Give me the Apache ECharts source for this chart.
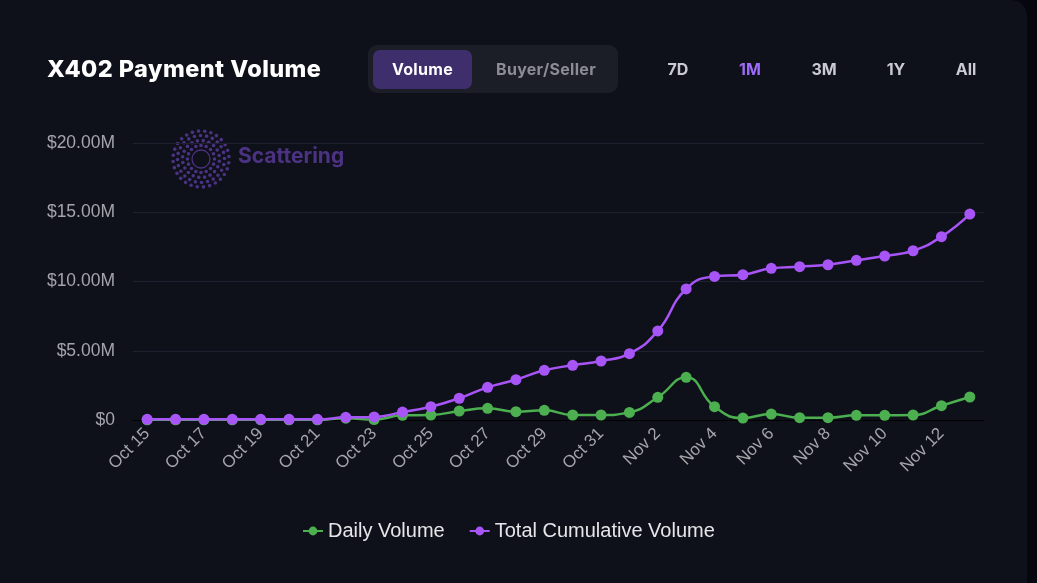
<!DOCTYPE html>
<html>
<head>
<meta charset="utf-8">
<script src="https://cdn.jsdelivr.net/npm/echarts@6/dist/echarts.min.js"></script>
<style>
  html, body { margin:0; padding:0; background:#05060e; width:1037px; height:583px; overflow:hidden; }
  #card { position:absolute; left:0; top:0; width:1027px; height:583px; background:#0f111a; border-top-right-radius:16px; }
  #chart { position:absolute; left:0; top:0; width:1037px; height:583px; }
  .hdr { position:absolute; font-family:Inter, "Noto Sans", sans-serif; font-weight:700; }
  #title { left:47px; top:54px; font-size:23.5px; font-weight:800; color:#ffffff; letter-spacing:0.45px; line-height:30px; }
  #toggle { left:368px; top:45px; width:250px; height:48px; background:#1b1d27; border-radius:9px; }
  #vol { position:absolute; left:5px; top:5px; width:99px; height:39px; background:#3f2e6c; border-radius:7px; color:#fff; font-size:16px; letter-spacing:0.3px; line-height:39px; text-align:center; }
  #bs { position:absolute; left:112px; top:5px; width:132px; height:39px; color:#8b8c97; font-size:16px; letter-spacing:0.3px; line-height:39px; text-align:center; }
  .rng { top:58px; font-size:16px; color:#c9cad2; width:50px; text-align:center; line-height:22px; }
</style>
</head>
<body>
<div id="card"></div>
<div id="chart"></div>
<div class="hdr" id="title">X402 Payment Volume</div>
<div class="hdr" id="toggle"><div id="vol">Volume</div><div id="bs">Buyer/Seller</div></div>
<div class="hdr rng" style="left:653px;">7D</div>
<div class="hdr rng" style="left:725px;color:#9d6cf7;">1M</div>
<div class="hdr rng" style="left:799px;">3M</div>
<div class="hdr rng" style="left:871px;">1Y</div>
<div class="hdr rng" style="left:941px;">All</div>
<script>
const categories = ['Oct 15','Oct 16','Oct 17','Oct 18','Oct 19','Oct 20','Oct 21','Oct 22','Oct 23','Oct 24','Oct 25','Oct 26','Oct 27','Oct 28','Oct 29','Oct 30','Oct 31','Nov 1','Nov 2','Nov 3','Nov 4','Nov 5','Nov 6','Nov 7','Nov 8','Nov 9','Nov 10','Nov 11','Nov 12','Nov 13'];
// values in millions of USD
const dailyVolume = [0.01,0.01,0.01,0.01,0.01,0.01,0.01,0.13,0.03,0.34,0.36,0.65,0.84,0.60,0.70,0.36,0.36,0.55,1.64,3.08,0.96,0.14,0.43,0.17,0.17,0.34,0.34,0.36,1.03,1.66];
const cumulativeVolume = [0.05,0.05,0.05,0.05,0.05,0.05,0.05,0.19,0.22,0.57,0.96,1.57,2.36,2.91,3.59,3.95,4.26,4.79,6.43,9.46,10.37,10.49,10.95,11.07,11.21,11.53,11.84,12.22,13.24,14.87];
const yTicks = [0,5,10,15,20];

const chart = echarts.init(document.getElementById('chart'), null, {renderer:'canvas'});

// watermark logo (decorative)
const logoColor = '#4b3282';
const logo = [];
const cx = 201, cy = 159;
logo.push({type:'circle', shape:{cx:cx, cy:cy, r:9}, style:{fill:null, stroke:logoColor, lineWidth:1.3}, silent:true});
const rings = [[13.5,16],[18.5,20],[23.5,24],[28,28]];
rings.forEach(([r,n],k)=>{
  for(let i=0;i<n;i++){
    const a = (i/n)*Math.PI*2 + k*0.12;
    logo.push({type:'circle', shape:{cx:cx+r*Math.cos(a), cy:cy+r*Math.sin(a), r:1.8}, style:{fill:logoColor}, silent:true});
  }
});
logo.push({type:'text', left:238, top:146, style:{text:'Scattering', fill:logoColor, font:'700 21px Inter, "Noto Sans", sans-serif'}, silent:true});

const option = {
  backgroundColor:'transparent',
  animation:false,
  graphic: logo,
  grid:{left:133, right:53, top:143, bottom:163, containLabel:false},
  legend:{
    left:297, top:516, itemWidth:20, itemHeight:11, itemGap:24,
    textStyle:{color:'#e6e6ea', fontSize:20, fontFamily:'"Liberation Sans", Arial, sans-serif'},
    data:['Daily Volume','Total Cumulative Volume']
  },
  xAxis:{
    type:'category', data:categories, boundaryGap:true,
    axisLine:{show:true, lineStyle:{color:'#000000', width:1}},
    axisTick:{show:false},
    axisLabel:{interval:1, rotate:45, color:'#a4a4aa', fontSize:17, margin:11, fontFamily:'"Liberation Sans", Arial, sans-serif'}
  },
  yAxis:{
    type:'value', min:0, max:20, interval:5,
    axisLine:{show:false}, axisTick:{show:false},
    splitLine:{lineStyle:{color:'#1f2130', width:1}},
    axisLabel:{color:'#a4a4aa', fontSize:17.5, margin:18, fontFamily:'"Liberation Sans", Arial, sans-serif',
      formatter:v=> v===0 ? '$0' : '$'+v.toFixed(2)+'M'}
  },
  series:[
    {name:'Daily Volume', type:'line', data:dailyVolume, smooth:true, symbol:'circle', symbolSize:11,
      lineStyle:{color:'#4caf50', width:2.5}, itemStyle:{color:'#4caf50'}, z:2},
    {name:'Total Cumulative Volume', type:'line', data:cumulativeVolume, smooth:true, symbol:'circle', symbolSize:11,
      lineStyle:{color:'#a855f7', width:2.5}, itemStyle:{color:'#a855f7'}, z:3}
  ]
};
chart.setOption(option);
</script>
</body>
</html>
